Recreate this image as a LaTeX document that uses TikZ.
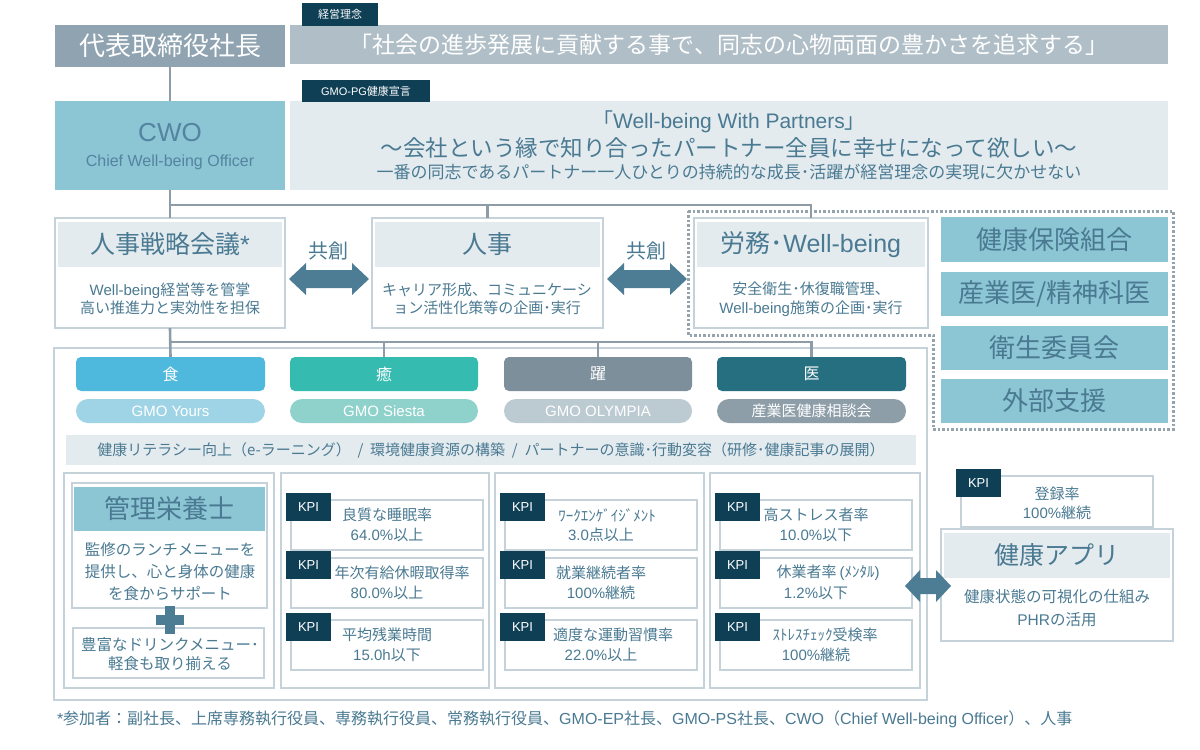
\documentclass[tikz,border=0pt]{standalone}
\usepackage{fontspec}
\setmainfont{Noto Sans CJK JP}
\newfontfamily\latf{Liberation Sans}
\newcommand\LS[1]{{\latf #1}}
\usetikzlibrary{fit,calc}
\definecolor{darklab}{HTML}{0E3F55}
\definecolor{txt}{HTML}{4A7A92}
\definecolor{cwotxt}{HTML}{5384A0}
\definecolor{band}{HTML}{E4EBEF}
\definecolor{bord}{HTML}{C5D2DA}
\definecolor{conn}{HTML}{8D9CA7}
\definecolor{teal}{HTML}{8CC5D4}
\definecolor{pres}{HTML}{8FA3B1}
\definecolor{phil}{HTML}{B0BFC7}
\definecolor{arrowc}{HTML}{4D7C95}
\definecolor{dotc}{HTML}{95A3AD}
\definecolor{shoku}{HTML}{4FB9DD}
\definecolor{shokul}{HTML}{9FD4E6}
\definecolor{iyasu}{HTML}{35BBB0}
\definecolor{iyasul}{HTML}{8FD1CB}
\definecolor{yaku}{HTML}{7E8F9C}
\definecolor{yakul}{HTML}{BCCAD2}
\definecolor{isha}{HTML}{256F80}
\definecolor{ishal}{HTML}{8D9EA9}
% #1 shift of first line, #2 name, #3 panel x, #4 box top, #5 line 1, #6 line 2
\newcommand\kpiitem[6][0]{%
  \node[wbox, fit={(#3+10,#4) (#3+202,#4+50)}] (#2) {};
  \node[kpilab] (#2L) at (#3+5,#4-7) {\LS{KPI}};
  \node[txtn, fs={15}{18}] (#2A) at ($(#2.center)+(#1,-10)$) {#5};
  \node[txtn, fs={15}{18}] (#2B) at ($(#2.center)+(0,10)$) {#6};
}
\begin{document}
\begin{tikzpicture}[x=1pt,y=-1pt,
  every node/.style={inner sep=0pt, outer sep=0pt},
  fs/.style 2 args={font=\fontsize{#1}{#2}\selectfont},
  wbox/.style={draw=bord, line width=1.2pt, fill=white, inner sep=0pt},
  bandbox/.style={fill=band, inner sep=0pt},
  tealbox/.style={fill=teal, inner sep=0pt},
  txtn/.style={text=txt, align=center},
  wtxt/.style={text=white, align=center},
  darklabel/.style={fill=darklab, text=white, anchor=north west, fs={11}{13}},
  kpilab/.style={fill=darklab, text=white, anchor=north west, minimum width=45, minimum height=28, fs={13}{15}},
  conn/.style={draw=conn, line width=2.6pt},
  catpill/.style={rounded corners=5pt, inner sep=0pt},
  subpill/.style={rounded corners=12pt, inner sep=0pt},
  dblarrA/.pic={\fill[arrowc] (-40,0) -- (-23,-16) -- (-23,-9) -- (23,-9) -- (23,-16) -- (40,0) -- (23,16) -- (23,9) -- (-23,9) -- (-23,16) -- cycle;},
  dblarrB/.pic={\fill[arrowc] (-23,0) -- (-8,-16) -- (-8,-8) -- (8,-8) -- (8,-16) -- (23,0) -- (8,16) -- (8,8) -- (-8,8) -- (-8,16) -- cycle;}
]
\useasboundingbox[fill=white] (0,0) rectangle (1200,750);

% ---------- top rows ----------
\node[fill=pres, fit={(55,25) (285,67)}] (pres) {};
\node[wtxt, fs={26}{30}] (presT) at (pres.center) {代表取締役社長};
\node[fill=phil, fit={(290,25) (1168,64)}] (phil) {};
\node[wtxt, fs={23}{28}] (philT) at (729,45) {「社会の進歩発展に貢献する事で、同志の心物両面の豊かさを追求する」};
\node[darklabel, minimum width=76, minimum height=23] (philL) at (302,3) {経営理念};

\node[fill=teal, fit={(55,101) (285,190)}] (cwo) {};
\node[text=cwotxt, fs={26}{30}] (cwoT) at (170,133) {\LS{CWO}};
\node[text=cwotxt, fs={16}{19}] (cwoS) at (170,162) {\LS{Chief Well-being Officer}};
\node[bandbox, fit={(290,101) (1168,190)}] (decl) {};
\node[darklabel, minimum width=128, minimum height=22] (declL) at (302,80) {\LS{GMO-PG}健康宣言};
\node[txtn, fs={21}{25}] (d1) at (729,122) {「\LS{Well-being With Partners}」};
\node[txtn, fs={22.5}{27}] (d2) at (729,148) {～会社という縁で知り合ったパートナー全員に幸せになって欲しい～};
\node[txtn, fs={17}{20}] (d3) at (729,172) {一番の同志であるパートナー一人ひとりの持続的な成長･活躍が経営理念の実現に欠かせない};

% ---------- second row ----------
\node[wbox, fit={(55,218) (285,328)}] (hsk) {};
\node[bandbox, fit={(58,222) (282,267)}] (hskH) {};
\node[txtn, fs={25}{30}] (hskT) at (hskH.center) {人事戦略会議\LS{*}};
\node[txtn, fs={15}{18.5}] (hskB) at (170,299) {\LS{Well-being}経営等を管掌\\高い推進力と実効性を担保};

\node[wbox, fit={(372,218) (603,328)}] (jinji) {};
\node[bandbox, fit={(375,222) (600,267)}] (jinjiH) {};
\node[txtn, fs={25}{30}] (jinjiT) at (jinjiH.center) {人事};
\node[txtn, fs={15}{18.5}] (jinjiB) at (487,299) {キャリア形成、コミュニケーシ\\ョン活性化策等の企画･実行};

\node[wbox, fit={(694,218) (928,328)}] (romu) {};
\node[bandbox, fit={(697,222) (925,267)}] (romuH) {};
\node[txtn, fs={25}{30}] (romuT) at (romuH.center) {労務･\LS{Well-being}};
\node[txtn, fs={15}{18.5}] (romuB) at (811,299) {安全衛生･休復職管理、\\\LS{Well-being}施策の企画･実行};

\node[txtn, fs={20}{24}] (kyo1) at (328,251) {共創};
\node[txtn, fs={20}{24}] (kyo2) at (646,251) {共創};
\pic at (329,279) {dblarrA};
\pic at (647,279) {dblarrA};

\node[tealbox, fit={(941,217) (1168,262)}] (r1) {};
\node[txtn, fs={26}{30}] (r1T) at (r1.center) {健康保険組合};
\node[tealbox, fit={(941,272) (1168,316)}] (r2) {};
\node[txtn, fs={26}{30}] (r2T) at (r2.center) {産業医/精神科医};
\node[tealbox, fit={(941,326) (1168,370)}] (r3) {};
\node[txtn, fs={26}{30}] (r3T) at (r3.center) {衛生委員会};
\node[tealbox, fit={(941,379) (1168,423)}] (r4) {};
\node[txtn, fs={26}{30}] (r4T) at (r4.center) {外部支援};

\draw[dotc, line width=3pt, dash pattern=on 2.5pt off 2pt]
  (688,211) -- (1173,211) -- (1173,429) -- (933,429) -- (933,335) -- (688,335) -- cycle;

% tree 1
\coordinate (j1) at (170,205);
\draw[conn] (pres.south) -- (cwo.north);
\draw[conn] (cwo.south) -- (hsk.north);
\draw[conn] (j1) -| (romu.north);
\draw[conn] (jinji.north |- j1) -- (jinji.north);

% ---------- main container ----------
\node[wbox, fit={(54,348) (927,700)}] (cont) {};

\node[catpill, fill=shoku, fit={(76,357) (265,391)}] (shokuP) {};
\node[wtxt, fs={16}{19}] (shokuT) at (shokuP.center) {食};
\node[catpill, fill=iyasu, fit={(290,357) (478,391)}] (iyasuP) {};
\node[wtxt, fs={16}{19}] (iyasuT) at (iyasuP.center) {癒};
\node[catpill, fill=yaku, fit={(504,357) (692,391)}] (yakuP) {};
\node[wtxt, fs={16}{19}] (yakuT) at (yakuP.center) {躍};
\node[catpill, fill=isha, fit={(717,357) (906,391)}] (ishaP) {};
\node[wtxt, fs={16}{19}] (ishaT) at (ishaP.center) {医};

\node[subpill, fill=shokul, fit={(76,399) (265,423)}] (shokuS) {};
\node[wtxt, fs={15}{18}] (shokuST) at (shokuS.center) {\LS{GMO Yours}};
\node[subpill, fill=iyasul, fit={(290,399) (478,423)}] (iyasuS) {};
\node[wtxt, fs={15}{18}] (iyasuST) at (iyasuS.center) {\LS{GMO Siesta}};
\node[subpill, fill=yakul, fit={(504,399) (692,423)}] (yakuS) {};
\node[wtxt, fs={15}{18}] (yakuST) at (yakuS.center) {\LS{GMO OLYMPIA}};
\node[subpill, fill=ishal, fit={(717,399) (906,423)}] (ishaS) {};
\node[wtxt, fs={15}{18}] (ishaST) at (ishaS.center) {産業医健康相談会};

% tree 2
\coordinate (j2) at (170,342);
\draw[conn] (hsk.south) -- (shokuP.north);
\draw[conn] (j2) -| (ishaP.north);
\draw[conn] (iyasuP.north |- j2) -- (iyasuP.north);
\draw[conn] (yakuP.north |- j2) -- (yakuP.north);

\node[bandbox, fit={(66,435) (916,465)}] (bandN) {};
\node[txtn, fs={15}{18}] (bandT) at (bandN.center) {健康リテラシー向上（e-ラーニング）\ \ /\ \ 環境健康資源の構築\ \ /\ \ パートナーの意識･行動変容（研修･健康記事の展開）};

% panels
\node[wbox, fit={(64,473) (274,688)}] (p1) {};
\node[wbox, fit={(281,473) (489,688)}] (p2) {};
\node[wbox, fit={(495,473) (704,688)}] (p3) {};
\node[wbox, fit={(710,473) (920,688)}] (p4) {};

% panel 1
\node[wbox, fit={(72,483) (267,608)}] (eiyo) {};
\node[tealbox, fit={(74,487) (265,531)}] (eiyoH) {};
\node[txtn, fs={26}{30}] (eiyoT) at (eiyoH.center) {管理栄養士};
\node[txtn, fs={15.5}{22}] (eiyoB) at (170,572) {監修のランチメニューを\\提供し、心と身体の健康\\を食からサポート};
\node[wbox, fit={(73,628) (264,678)}] (drink) {};
\node[txtn, fs={15.5}{19}] (drinkT) at (170,654) {豊富なドリンクメニュー･\\軽食も取り揃える};
\fill[arrowc] (156,615) rectangle (184,625);
\fill[arrowc] (165,606) rectangle (175,634);

% KPI panels
\kpiitem{k21}{281}{500}{良質な睡眠率}{\LS{64.0\%}以上}
\kpiitem[15]{k22}{281}{558}{年次有給休暇取得率}{\LS{80.0\%}以上}
\kpiitem{k23}{281}{620}{平均残業時間}{\LS{15.0h}以下}
\kpiitem[6]{k31}{495}{500}{ﾜｰｸｴﾝｹﾞｲｼﾞﾒﾝﾄ}{\LS{3.0}点以上}
\kpiitem{k32}{495}{558}{就業継続者率}{\LS{100\%}継続}
\kpiitem[12]{k33}{495}{620}{適度な運動習慣率}{\LS{22.0\%}以上}
\kpiitem{k41}{710}{500}{高ストレス者率}{\LS{10.0\%}以下}
\kpiitem[12]{k42}{710}{558}{休業者率\hspace{3pt}\LS{(}ﾒﾝﾀﾙ\LS{)}}{\LS{1.2\%}以下}
\kpiitem[9]{k43}{710}{620}{ｽﾄﾚｽﾁｪｯｸ受検率}{\LS{100\%}継続}

% health app
\node[wbox, fit={(961,476) (1153,527)}] (appk) {};
\node[kpilab] (appkL) at (956,469) {\LS{KPI}};
\node[txtn, fs={15}{19}] (appkT) at (1057,503) {登録率\\\LS{100\%}継続};
\node[wbox, fit={(941,529) (1173,641)}] (app) {};
\node[bandbox, fit={(944,533) (1170,578)}] (appH) {};
\node[txtn, fs={25}{30}] (appT) at (appH.center) {健康アプリ};
\node[txtn, fs={15.5}{23}] (appB) at (1057,608) {健康状態の可視化の仕組み\\\LS{PHR}の活用};
\pic at (928,586) {dblarrB};

% footnote
\node[text=txt, anchor=west, fs={16}{18}] (foot) at (57,719) {\LS{*}参加者：副社長、上席専務執行役員、専務執行役員、常務執行役員、\LS{GMO-EP}社長、\LS{GMO-PS}社長、\LS{CWO}（\LS{Chief Well-being Officer}）、人事};
\end{tikzpicture}
\end{document}
